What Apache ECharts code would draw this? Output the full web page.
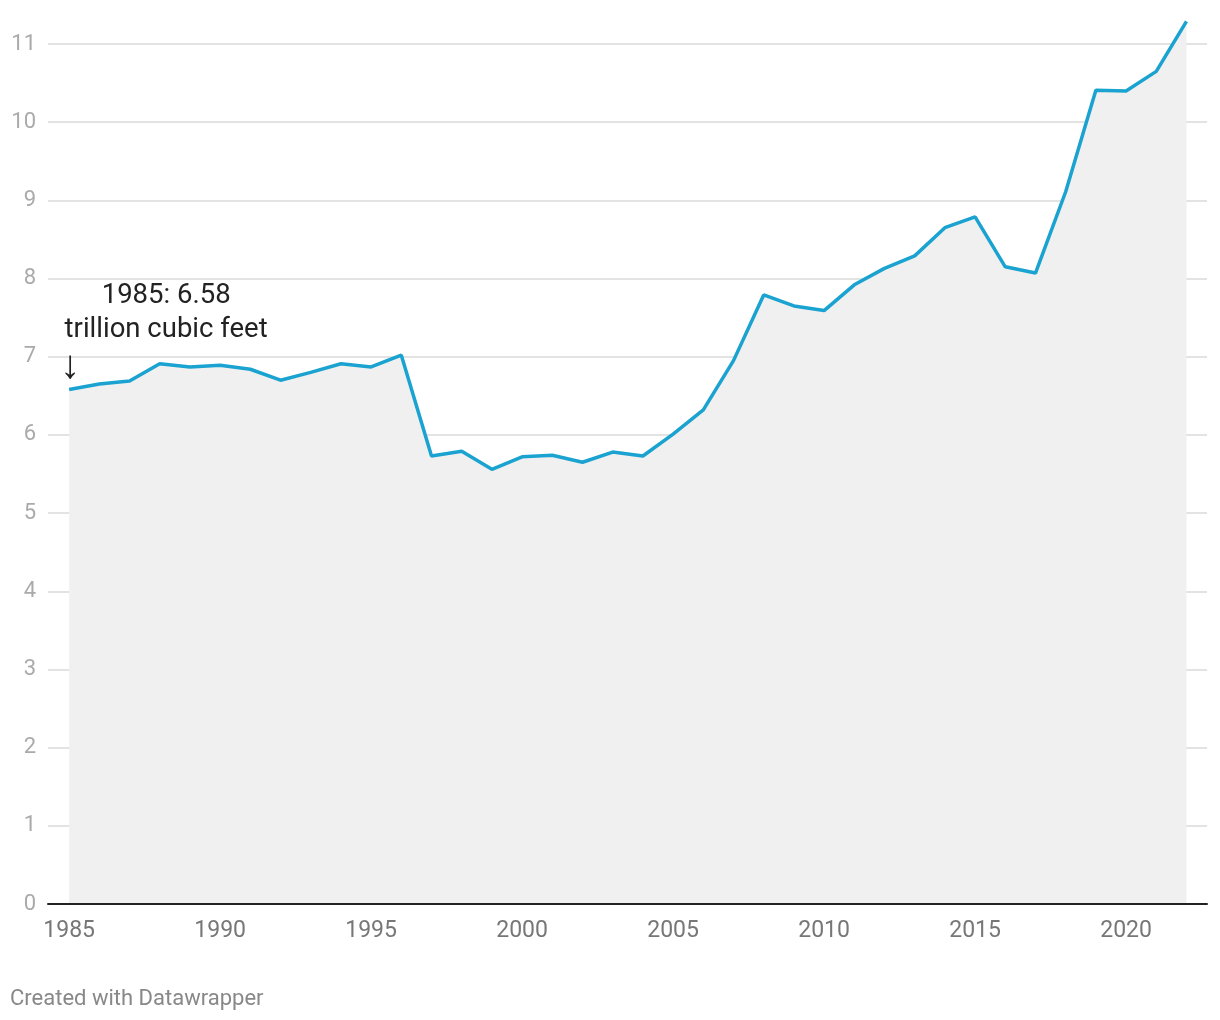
<!DOCTYPE html>
<html><head><meta charset="utf-8">
<script src="https://cdn.jsdelivr.net/npm/echarts@6/dist/echarts.min.js"></script>
<style>html,body{margin:0;padding:0;background:#fff;}#c{width:1220px;height:1020px;}</style>
</head><body><div id="c"></div>
<script>
const years = [1985,1986,1987,1988,1989,1990,1991,1992,1993,1994,1995,1996,1997,1998,1999,2000,2001,2002,2003,2004,2005,2006,2007,2008,2009,2010,2011,2012,2013,2014,2015,2016,2017,2018,2019,2020,2021,2022];
const values = [6.58,6.65,6.69,6.91,6.87,6.89,6.84,6.70,6.80,6.91,6.87,7.02,5.73,5.79,5.56,5.72,5.74,5.65,5.78,5.73,6.01,6.32,6.95,7.79,7.65,7.59,7.92,8.13,8.29,8.65,8.79,8.15,8.07,9.11,10.41,10.40,10.65,11.29];
const xTicks = [1985,1990,1995,2000,2005,2010,2015,2020];
const annotationText = '1985: 6.58\ntrillion cubic feet';
const footer = 'Created with Datawrapper';

const chart = echarts.init(document.getElementById('c'));
chart.setOption({
  animation: false,
  textStyle: {fontFamily: 'Roboto'},
  grid: {left: 48, right: 13, top: 44, bottom: 116},
  xAxis: {
    type: 'value', min: 1984.3, max: 2022.68, z: 5,
    splitLine: {show: false},
    axisLine: {show: true, lineStyle: {color: '#222', width: 2}},
    axisTick: {show: false},
    axisLabel: {customValues: xTicks, formatter: v => String(v), color: '#777', fontSize: 23, margin: 16, fontFamily: 'Roboto'}
  },
  yAxis: {
    type: 'value', min: 0, max: 11, interval: 1,
    axisLine: {show: false}, axisTick: {show: false},
    splitLine: {lineStyle: {color: '#e3e3e3', width: 2}},
    axisLabel: {color: '#aaa', fontSize: 22, margin: 12, padding: [3, 0, 0, 0], fontFamily: 'Roboto'}
  },
  graphic: [{type: 'text', left: 10, top: 988, style: {text: footer, fill: '#888', font: '22px Roboto'}}],
  series: [{
    type: 'line', clip: false, symbol: 'none',
    data: years.map((y, i) => [y, values[i]]),
    lineStyle: {color: '#1aa3d0', width: 3.5},
    areaStyle: {color: '#f0f0f0', opacity: 1},
    markPoint: {
      symbol: 'circle', symbolSize: 0,
      data: [
        {coord: [years[0], values[0]], label: {show: true, formatter: annotationText, color: '#222', fontSize: 27.5, lineHeight: 34, align: 'center', offset: [97, -76], fontFamily: 'Roboto'}},
        {coord: [years[0], values[0]], label: {show: true, formatter: '↓', color: '#222', fontSize: 40, offset: [1, -22], fontFamily: 'Roboto'}}
      ]
    }
  }]
});
</script></body></html>
